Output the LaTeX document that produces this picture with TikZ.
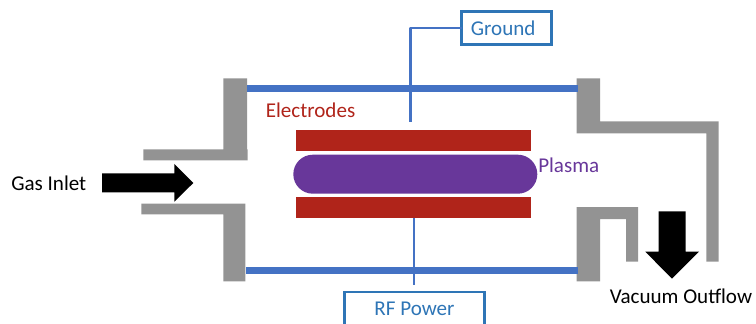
\documentclass[tikz,border=0pt]{standalone}
\usepackage{fontspec}
\setmainfont{Carlito}
\definecolor{wallgray}{HTML}{939393}
\definecolor{tubeblue}{HTML}{4472C4}
\definecolor{boxblue}{HTML}{2E75B6}
\definecolor{elecred}{HTML}{B0241A}
\definecolor{plasmapurple}{HTML}{68379A}
\usetikzlibrary{shapes.misc}
\tikzset{
  wall/.style={fill=wallgray,draw=none},
  tube/.style={fill=tubeblue,draw=none,inner sep=0pt,outer sep=0pt},
  electrode/.style={fill=elecred,draw=none,inner sep=0pt,outer sep=0pt,minimum width=234.4*0.75pt,minimum height=20.7*0.75pt},
  plasma/.style={fill=plasmapurple,draw=none,inner sep=0pt,outer sep=0pt,rounded rectangle,minimum width=244*0.75pt,minimum height=39*0.75pt},
  labelbox/.style={draw=boxblue,line width=2pt,text=boxblue,inner sep=0pt,outer sep=0pt,font=\fontsize{15.8}{18}\selectfont},
  wire/.style={draw=tubeblue,line width=1.9pt},
  lbl/.style={font=\fontsize{15.8}{18}\selectfont,inner sep=0pt},
}
\begin{document}
\begin{tikzpicture}[x=0.75pt,y=-0.75pt]
\useasboundingbox (0,0) rectangle (756,324);
\clip (0,0) rectangle (756,324);
% walls
\fill[wall] (223.3,78.3) -- (247,78.3) -- (247,149.3) -- (247.5,149.3) -- (247.5,160.3) -- (143.3,160.3) -- (143.3,149.3) -- (223.3,149.3) -- cycle;
\fill[wall] (141.3,203.7) -- (245.3,203.7) -- (245.3,281.3) -- (223.3,281.3) -- (223.3,214.3) -- (141.3,214.3) -- cycle;
\fill[wall] (576.7,78.3) -- (600,78.3) -- (600,121.3) -- (718.7,121.3) -- (718.7,261.7) -- (706.3,261.7) -- (706.3,133.3) -- (576.7,133.3) -- cycle;
\fill[wall] (576.7,207) -- (638,207) -- (638,261.7) -- (626,261.7) -- (626,219) -- (600,219) -- (600,281.3) -- (576.7,281.3) -- cycle;
% connector ends
\coordinate (gnd end) at (410.3,122);
\coordinate (rf end) at (414,285);
\coordinate (rf start) at (414,218);
% label boxes
\node[labelbox,minimum width=90*0.75pt,minimum height=33*0.75pt] (ground) at (506.5,27.8) {Ground\kern5pt\relax};
\node[labelbox,minimum width=139.5*0.75pt,minimum height=34*0.75pt] (rf) at (414.5,309) {RF Power};
% wires
\draw[wire,line join=round] (ground.west) -| (gnd end);
\draw[wire] (rf start) -- (rf end);
% chamber tubes
\node[tube,minimum width=331*0.75pt,minimum height=7.3*0.75pt] (tubetop) at (412.5,88.6) {};
\node[tube,minimum width=332*0.75pt,minimum height=7.3*0.75pt] (tubebot) at (412,270.6) {};
% electrodes and plasma
\node[electrode] (etop) at (413.5,140.3) {};
\node[electrode] (ebot) at (413.5,207.7) {};
\node[plasma] (plasma) at (415.3,174.2) {};
% arrows
\fill[black] (102,173.3) -- (174.3,173.3) -- (174.3,164) -- (193.3,183) -- (174.3,201.7) -- (174.3,192.3) -- (102,192.3) -- cycle;
\fill[black] (658.7,211.3) -- (685.7,211.3) -- (685.7,251.7) -- (699,251.7) -- (672,278.7) -- (645.3,251.7) -- (658.7,251.7) -- cycle;
% labels
\node[lbl,anchor=west] (inlet) at (11,183) {Gas Inlet};
\node[lbl,anchor=west,text=elecred] (elabel) at (265.5,110.5) {Electrodes};
\node[lbl,anchor=west,text=plasmapurple] (plabel) at (538,165.5) {Plasma};
\node[lbl,anchor=west] (outflow) at (609.5,296.5) {Vacuum Outflow};
\end{tikzpicture}
\end{document}
